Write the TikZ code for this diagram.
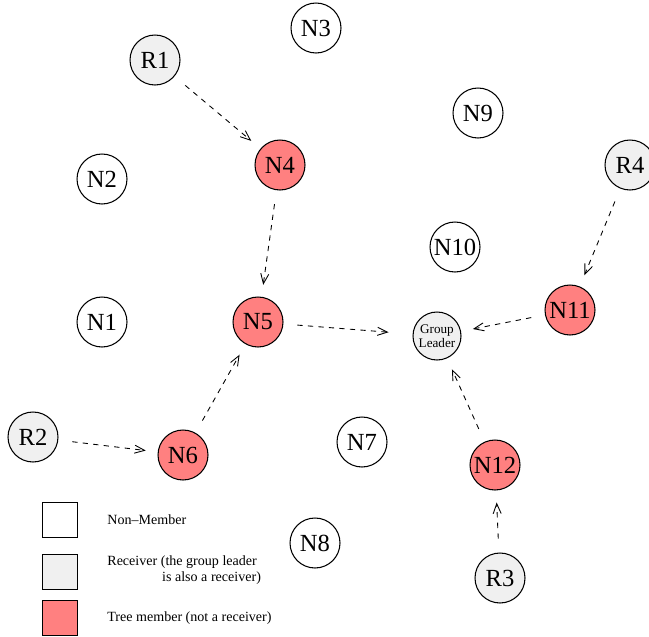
\documentclass[tikz,border=0pt]{standalone}
\usepackage{fontspec}
\setmainfont{Liberation Serif}
\usetikzlibrary{arrows.meta}
\definecolor{treered}{RGB}{255,128,128}
\definecolor{recgray}{RGB}{240,240,240}

\begin{document}
\begin{tikzpicture}[x = 0.02cm, y = -0.02cm, line width = 0.6pt,
    mem/.style = {circle, draw, minimum size = 1cm, inner sep = 0pt, font = \fontsize{14}{15}\selectfont},
    rcv/.style = {mem, fill = recgray},
    tree/.style = {mem, fill = treered},
    msg/.style = {dashed, line width = 0.5pt, -{Straight Barb[length=2mm,width=1.6mm]}, shorten < = 2.8mm, shorten > = 2.4mm},
    key/.style = {draw, minimum size = 0.7cm, inner sep = 0pt},
    keytext/.style = {anchor = west, font = \fontsize{8}{9.5}\selectfont, align = left}]
\useasboundingbox (0,0) rectangle (649,636);
\draw (316,28) node[mem](n3){N3}
    (155,60) node[rcv](r1){R1}
    (478,113) node[mem](n9){N9}
    (280,165) node[tree](n4){N4}
    (102,179) node[mem](n2){N2}
    (630,165) node[rcv](r4){R4}
    (455,247) node[mem](n10){N10}
    (102,322) node[mem](n1){N1}
    (258,322) node[tree](n5){N5}
    (437,336) node[rcv, minimum size = 0.96cm, font = \fontsize{7.5}{8.3}\selectfont, align = center](gl){Group\\Leader}
    (570,310) node[tree](n11){N11}
    (33,437) node[rcv](r2){R2}
    (362,442) node[mem](n7){N7}
    (183,455) node[tree](n6){N6}
    (495,465) node[tree](n12){N12}
    (315,543) node[mem](n8){N8}
    (500,578) node[rcv](r3){R3};
    \draw [msg] (r1) -- (n4);
    \draw [msg] (n4) -- (n5);
    \draw [msg, shorten > = 4.8mm] (n5) -- (gl);
    \draw [msg] (n11) -- (gl);
    \draw [msg] (r4) -- (n11);
    \draw [msg] (r2) -- (n6);
    \draw [msg] (n6) -- (n5);
    \draw [msg] (r3) -- (n12);
    \draw [msg] (n12) -- (gl);
% legend
\draw (60,520) node[key](k1){}
    (60,572) node[key, fill = recgray](k2){}
    (60,618) node[key, fill = treered](k3){};
\draw (101,520) node[keytext](t1){Non--Member}
    (101,570) node[keytext](t2){Receiver (the group leader\\\hspace*{3.9em}is also a receiver)}
    (101,618) node[keytext](t3){Tree member (not a receiver)};
\end{tikzpicture}
\end{document}
